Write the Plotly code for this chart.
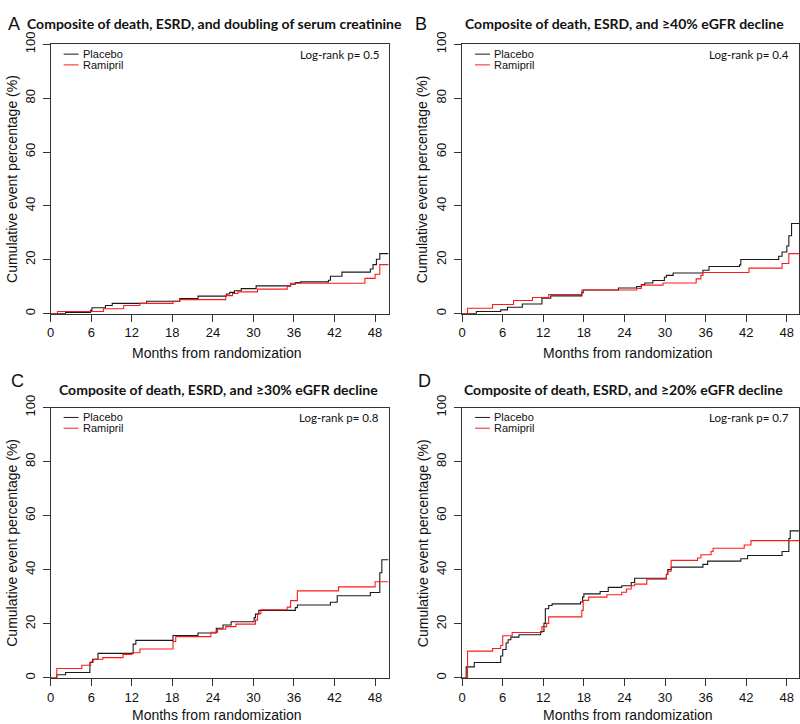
import plotly.graph_objects as go

# ---------------- data (months, cumulative event %) ----------------
A_placebo_t = [0, 2.2, 5.9, 6.1, 8.1, 9.1, 14.2, 19.1, 21.8, 26.0, 26.5, 27.2, 28.2, 30.4, 35.5, 36.2, 37.0, 41.1, 41.4, 43.1, 47.3, 47.7, 48.2, 48.7, 50.0]
A_placebo_y = [0, 0.4, 1.2, 2.2, 3.0, 3.8, 4.6, 5.6, 6.5, 7.3, 7.9, 8.5, 9.3, 10.3, 10.9, 11.5, 11.8, 12.4, 13.9, 15.4, 16.6, 18.2, 20.2, 22.3, 22.3]
A_ramipril_t = [0, 1.0, 7.8, 10.8, 13.2, 18.1, 19.1, 25.9, 26.9, 27.7, 30.6, 35.0, 35.5, 46.5, 48.0, 48.7, 50.0]
A_ramipril_y = [0, 0.8, 1.8, 3.0, 3.8, 4.6, 5.2, 6.7, 7.5, 8.1, 9.1, 10.1, 11.3, 13.1, 14.6, 18.2, 18.2]

B_placebo_t = [0, 2.1, 5.7, 6.7, 8.9, 11.8, 13.1, 17.7, 17.9, 23.1, 25.8, 26.5, 27.0, 28.2, 29.9, 30.2, 31.2, 35.6, 36.5, 41.0, 41.2, 46.8, 47.3, 48.0, 48.3, 48.7, 49.8]
B_placebo_y = [0, 0.8, 1.4, 2.4, 3.6, 5.7, 6.6, 7.8, 8.8, 9.5, 10.1, 10.8, 11.4, 12.3, 13.5, 14.2, 15.1, 16.1, 17.5, 18.1, 20.1, 21.3, 22.9, 25.1, 28.9, 33.5, 33.5]
B_ramipril_t = [0, 0.8, 4.5, 7.6, 10.4, 12.8, 17.7, 25.8, 26.5, 29.7, 34.6, 35.3, 35.6, 42.4, 47.3, 48.3, 49.8]
B_ramipril_y = [0, 2.0, 3.4, 4.9, 6.0, 7.1, 8.8, 9.4, 10.6, 11.4, 12.9, 14.2, 15.3, 16.9, 18.6, 22.3, 22.3]

C_placebo_t = [0, 0.9, 2.2, 5.8, 6.2, 7.0, 12.2, 12.6, 18.1, 21.8, 24.5, 25.5, 26.7, 30.1, 30.3, 30.8, 36.2, 36.5, 41.4, 42.4, 47.3, 48.7, 49.0, 50.0]
C_placebo_y = [0, 1.2, 2.0, 5.7, 6.9, 9.1, 12.5, 13.9, 15.7, 16.6, 18.4, 19.6, 20.8, 22.3, 23.6, 25.0, 26.0, 27.0, 28.0, 30.4, 31.6, 38.9, 43.7, 43.7]
C_ramipril_t = [0, 0.9, 4.6, 5.9, 6.3, 7.7, 10.7, 12.0, 13.2, 18.1, 18.5, 23.7, 24.7, 25.9, 27.4, 30.3, 30.6, 31.1, 35.0, 35.5, 36.5, 42.6, 48.0, 50.0]
C_ramipril_y = [0, 3.5, 4.7, 6.0, 6.9, 7.5, 8.7, 9.3, 10.7, 13.5, 15.3, 16.9, 18.0, 19.0, 19.9, 21.4, 23.8, 25.2, 26.2, 28.6, 32.2, 33.7, 35.6, 35.6]

D_placebo_t = [0, 0.6, 1.8, 5.7, 6.0, 6.5, 6.8, 7.2, 8.4, 11.6, 12.1, 12.3, 12.8, 13.3, 17.5, 17.8, 18.0, 20.4, 21.6, 23.6, 25.0, 25.5, 30.2, 30.4, 30.9, 35.6, 36.3, 41.2, 42.2, 47.3, 48.3, 48.5, 49.8]
D_placebo_y = [0, 4.1, 5.7, 8.1, 10.5, 12.9, 14.1, 15.1, 16.0, 17.2, 20.2, 25.6, 26.8, 27.4, 28.1, 29.9, 31.1, 32.0, 33.5, 34.1, 35.3, 36.9, 38.3, 40.1, 41.0, 42.0, 43.2, 44.1, 45.3, 46.8, 51.6, 54.4, 54.4]
D_ramipril_t = [0, 0.8, 4.5, 5.7, 6.0, 7.4, 11.8, 12.5, 12.8, 17.7, 17.9, 18.7, 21.4, 23.6, 24.3, 25.0, 25.5, 27.3, 30.2, 30.4, 30.9, 34.8, 35.3, 36.8, 37.1, 41.7, 42.7, 49.8]
D_ramipril_y = [0, 9.9, 10.9, 12.0, 15.6, 16.8, 19.0, 20.2, 22.6, 25.0, 28.7, 29.9, 30.8, 31.7, 32.9, 34.1, 34.7, 36.5, 38.3, 39.5, 43.5, 44.4, 45.6, 46.8, 48.0, 49.2, 50.8, 50.8]

panel_letters = ["A", "B", "C", "D"]
panel_titles = [
    "Composite of death, ESRD, and doubling of serum creatinine",
    "Composite of death, ESRD, and \u226540% eGFR decline",
    "Composite of death, ESRD, and \u226530% eGFR decline",
    "Composite of death, ESRD, and \u226520% eGFR decline",
]
logrank_p = ["0.5", "0.4", "0.8", "0.7"]
series_names = ["Placebo", "Ramipril"]
x_ticks = [0, 6, 12, 18, 24, 30, 36, 42, 48]
y_ticks = [0, 20, 40, 60, 80, 100]
x_title = "Months from randomization"
y_title = "Cumulative event percentage (%)"

# ---------------- layout geometry (pixels) ----------------
W, H = 800, 724
def px(x):
    return x / W
def py(y):
    return 1 - y / H

boxes = [  # left, right, top, bottom, xmax
    (47, 387, 32, 307, 50.0),
    (461, 800, 32, 307, 49.8),
    (47, 387, 403, 679, 50.0),
    (461, 800, 403, 679, 49.8),
]
letter_pos = [(2, 11), (412, 11), (5, 376), (415, 376)]
title_pos = [(212, 11), (624, 11), (216, 384), (623, 384)]
xtitle_y = [347, 347, 717, 717]
ytitle_x = [8, 421, 8, 421]

data = [
    (A_placebo_t, A_placebo_y, A_ramipril_t, A_ramipril_y),
    (B_placebo_t, B_placebo_y, B_ramipril_t, B_ramipril_y),
    (C_placebo_t, C_placebo_y, C_ramipril_t, C_ramipril_y),
    (D_placebo_t, D_placebo_y, D_ramipril_t, D_ramipril_y),
]

BLACK = "#1a1a1a"
RED = "#ff1a1a"
AX = "#333333"
SANS = "Liberation Sans, Arial, Helvetica, sans-serif"
CAL = "Lato, Carlito, Calibri, sans-serif"

fig = go.Figure()
annotations = []
shapes = []

for i in range(4):
    s = "" if i == 0 else str(i + 1)
    L, R, T, B, xmax = boxes[i]
    pt, pyv, rt, ryv = data[i]
    fig.add_trace(go.Scatter(x=pt, y=pyv, mode="lines", name=series_names[0],
                             line=dict(shape="hv", color=BLACK, width=1.1),
                             xaxis="x" + s, yaxis="y" + s, showlegend=False))
    fig.add_trace(go.Scatter(x=rt, y=ryv, mode="lines", name=series_names[1],
                             line=dict(shape="hv", color=RED, width=1.1),
                             xaxis="x" + s, yaxis="y" + s, showlegend=False))
    common = dict(showline=True, mirror=True, linecolor=AX, linewidth=1,
                  ticks="outside", ticklen=7, tickwidth=1, tickcolor=AX,
                  showgrid=False, zeroline=False,
                  tickfont=dict(family=SANS, size=13, color="#111"))
    fig.layout["xaxis" + s] = dict(domain=[px(L), px(R)], range=[0, xmax],
                                   tickvals=x_ticks, anchor="y" + s, **common)
    fig.layout["yaxis" + s] = dict(domain=[py(B), py(T)], range=[0, 100],
                                   tickvals=y_ticks, tickangle=-90, anchor="x" + s,
                                   ticklabelstandoff=3, **common)

    lx, ly = letter_pos[i]
    annotations.append(dict(text=panel_letters[i], x=px(lx), y=py(ly), xref="paper", yref="paper",
                            xanchor="left", yanchor="middle", showarrow=False,
                            font=dict(family=SANS, size=18, color="#111")))
    tx, ty = title_pos[i]
    annotations.append(dict(text="<b>" + panel_titles[i] + "</b>", x=px(tx), y=py(ty),
                            xref="paper", yref="paper", xanchor="center", yanchor="middle",
                            showarrow=False, font=dict(family=CAL, size=14, color="#111")))
    annotations.append(dict(text=x_title, x=px((L + min(R, 801)) / 2 - 3), y=py(xtitle_y[i]),
                            xref="paper", yref="paper", xanchor="center", yanchor="middle",
                            showarrow=False, font=dict(family=SANS, size=14, color="#111")))
    annotations.append(dict(text=y_title, x=px(ytitle_x[i]), y=py((T + B) / 2),
                            xref="paper", yref="paper", xanchor="center", yanchor="middle",
                            textangle=-90, showarrow=False,
                            font=dict(family=SANS, size=14, color="#111")))
    # legend
    for k, (nm, col) in enumerate(zip(series_names, [BLACK, RED])):
        yy = T + 10 + 11 * k
        shapes.append(dict(type="line", xref="paper", yref="paper",
                           x0=px(L + 13), x1=px(L + 28), y0=py(yy), y1=py(yy),
                           line=dict(color=col, width=1)))
        annotations.append(dict(text=nm, x=px(L + 30), y=py(yy), xref="paper", yref="paper",
                                xanchor="left", yanchor="middle", showarrow=False,
                                font=dict(family=SANS, size=11, color="#111")))
    annotations.append(dict(text="Log-rank p= " + logrank_p[i], x=px(min(R, 800) - 8), y=py(T + 10),
                            xref="paper", yref="paper", xanchor="right", yanchor="middle",
                            showarrow=False, font=dict(family=CAL, size=11.5, color="#111")))

fig.update_layout(width=W, height=H, margin=dict(l=0, r=0, t=0, b=0),
                  paper_bgcolor="white", plot_bgcolor="white",
                  annotations=annotations, shapes=shapes, showlegend=False)

fig.write_html("out.html", config={"displayModeBar": False},
               post_script="document.body.style.margin='0';document.body.style.padding='0';"
                           "document.documentElement.style.overflow='hidden';")
